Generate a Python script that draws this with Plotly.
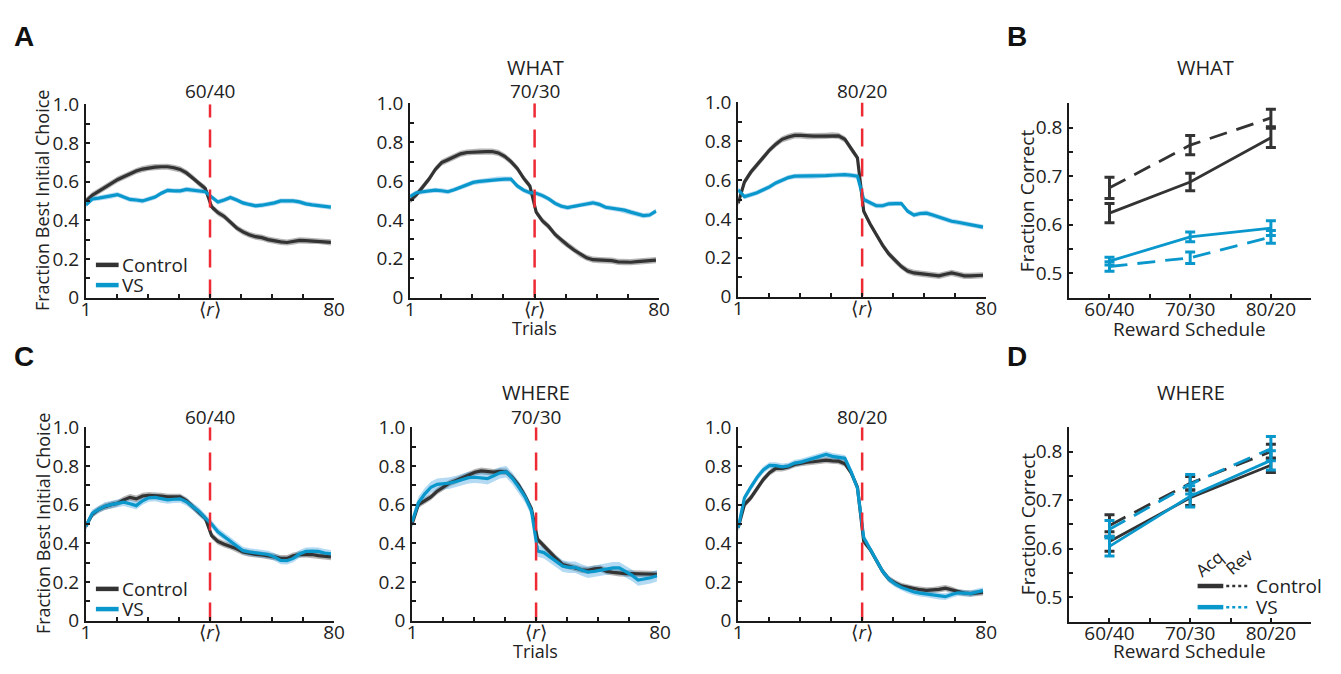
import plotly.graph_objects as go

W, H = 1341, 674

# ---------------- data ----------------
trials = list(range(1, 80, 2))  # 1,3,...,79
reversal_trial = 40.5

# WHAT (row A)
what_6040_control = [0.50, 0.53, 0.55, 0.57, 0.59, 0.61, 0.625, 0.64, 0.655, 0.665, 0.672, 0.675, 0.677, 0.677, 0.672, 0.663, 0.645, 0.62, 0.59, 0.565,
                     0.47, 0.44, 0.42, 0.39, 0.36, 0.34, 0.325, 0.315, 0.31, 0.30, 0.293, 0.288, 0.285, 0.29, 0.296, 0.295, 0.293, 0.293, 0.29, 0.286]
what_6040_vs = [0.48, 0.51, 0.515, 0.52, 0.525, 0.533, 0.52, 0.508, 0.505, 0.50, 0.51, 0.52, 0.54, 0.555, 0.552, 0.552, 0.56, 0.555, 0.552, 0.548,
                0.52, 0.495, 0.505, 0.518, 0.505, 0.49, 0.482, 0.475, 0.478, 0.483, 0.49, 0.50, 0.50, 0.50, 0.495, 0.485, 0.48, 0.476, 0.473, 0.468]
what_7030_control = [0.50, 0.53, 0.57, 0.61, 0.66, 0.695, 0.71, 0.725, 0.74, 0.747, 0.75, 0.752, 0.752, 0.752, 0.745, 0.727, 0.70, 0.665, 0.615, 0.575,
                     0.44, 0.395, 0.365, 0.325, 0.295, 0.27, 0.245, 0.223, 0.205, 0.195, 0.193, 0.193, 0.19, 0.184, 0.182, 0.182, 0.185, 0.188, 0.19, 0.193]
what_7030_vs = [0.52, 0.54, 0.545, 0.55, 0.553, 0.55, 0.545, 0.555, 0.568, 0.58, 0.593, 0.598, 0.602, 0.605, 0.61, 0.61, 0.61, 0.575, 0.553, 0.54,
                0.537, 0.525, 0.508, 0.485, 0.47, 0.463, 0.47, 0.478, 0.482, 0.488, 0.48, 0.465, 0.46, 0.455, 0.45, 0.44, 0.43, 0.422, 0.425, 0.445]
what_8020_control = [0.48, 0.59, 0.64, 0.68, 0.715, 0.755, 0.785, 0.81, 0.822, 0.83, 0.83, 0.826, 0.826, 0.826, 0.828, 0.83, 0.828, 0.81, 0.76, 0.715,
                     0.44, 0.375, 0.32, 0.265, 0.22, 0.185, 0.155, 0.132, 0.122, 0.118, 0.115, 0.11, 0.107, 0.115, 0.122, 0.115, 0.107, 0.107, 0.107, 0.11]
what_8020_vs = [0.55, 0.515, 0.525, 0.535, 0.55, 0.565, 0.585, 0.60, 0.613, 0.62, 0.62, 0.62, 0.62, 0.622, 0.623, 0.625, 0.628, 0.628, 0.625, 0.62,
                0.50, 0.482, 0.468, 0.468, 0.478, 0.479, 0.479, 0.44, 0.42, 0.428, 0.43, 0.42, 0.41, 0.398, 0.388, 0.383, 0.378, 0.37, 0.364, 0.358]

# WHERE (row C)
where_6040_control = [0.49, 0.55, 0.575, 0.59, 0.60, 0.607, 0.625, 0.638, 0.63, 0.645, 0.648, 0.648, 0.645, 0.64, 0.64, 0.64, 0.62, 0.59, 0.56, 0.53,
                      0.44, 0.41, 0.395, 0.385, 0.372, 0.355, 0.347, 0.343, 0.34, 0.336, 0.33, 0.322, 0.322, 0.335, 0.342, 0.343, 0.342, 0.336, 0.333, 0.33]
where_6040_vs = [0.49, 0.555, 0.575, 0.592, 0.60, 0.607, 0.613, 0.605, 0.595, 0.62, 0.635, 0.638, 0.63, 0.625, 0.628, 0.63, 0.615, 0.59, 0.565, 0.53,
                 0.50, 0.46, 0.435, 0.41, 0.385, 0.362, 0.355, 0.35, 0.345, 0.342, 0.33, 0.312, 0.31, 0.322, 0.345, 0.358, 0.36, 0.358, 0.35, 0.345]
where_7030_control = [0.50, 0.60, 0.62, 0.64, 0.67, 0.69, 0.712, 0.725, 0.74, 0.752, 0.768, 0.775, 0.77, 0.768, 0.772, 0.77, 0.74, 0.70, 0.645, 0.58,
                      0.42, 0.385, 0.35, 0.32, 0.29, 0.28, 0.273, 0.263, 0.26, 0.268, 0.27, 0.255, 0.25, 0.245, 0.243, 0.243, 0.243, 0.243, 0.243, 0.24]
where_7030_vs = [0.51, 0.61, 0.655, 0.69, 0.705, 0.708, 0.712, 0.72, 0.73, 0.74, 0.742, 0.74, 0.735, 0.75, 0.765, 0.77, 0.735, 0.69, 0.64, 0.57,
                 0.36, 0.352, 0.33, 0.305, 0.282, 0.276, 0.276, 0.262, 0.251, 0.255, 0.26, 0.268, 0.273, 0.273, 0.255, 0.235, 0.21, 0.215, 0.222, 0.232]
where_8020_control = [0.48, 0.60, 0.635, 0.68, 0.73, 0.765, 0.788, 0.788, 0.795, 0.808, 0.815, 0.82, 0.822, 0.826, 0.83, 0.827, 0.825, 0.812, 0.765, 0.69,
                      0.41, 0.37, 0.315, 0.255, 0.215, 0.195, 0.18, 0.172, 0.165, 0.16, 0.157, 0.158, 0.162, 0.168, 0.16, 0.148, 0.143, 0.14, 0.142, 0.146]
where_8020_vs = [0.48, 0.635, 0.69, 0.74, 0.78, 0.803, 0.802, 0.796, 0.80, 0.815, 0.82, 0.83, 0.838, 0.85, 0.86, 0.85, 0.845, 0.84, 0.77, 0.685,
                 0.43, 0.37, 0.31, 0.255, 0.215, 0.19, 0.172, 0.158, 0.148, 0.142, 0.138, 0.134, 0.126, 0.124, 0.135, 0.144, 0.142, 0.14, 0.148, 0.155]

# band half-widths (SEM) per curve
sem_what_control = [0.016, 0.016, 0.016]
sem_what_vs = [0.013, 0.013, 0.013]
sem_where_control = [0.017, 0.017, 0.016]
sem_where_vs = [0.02, 0.03, 0.017]

schedules = ["60/40", "70/30", "80/20"]

# B: WHAT fraction correct
b_control_acq = [0.624, 0.688, 0.779]
b_control_acq_err = [0.02, 0.018, 0.02]
b_control_rev = [0.676, 0.764, 0.82]
b_control_rev_err = [0.022, 0.02, 0.018]
b_vs_acq = [0.525, 0.575, 0.593]
b_vs_acq_err = [0.008, 0.01, 0.015]
b_vs_rev = [0.514, 0.532, 0.575]
b_vs_rev_err = [0.01, 0.012, 0.013]

# D: WHERE fraction correct
d_control_acq = [0.615, 0.705, 0.772]
d_control_acq_err = [0.02, 0.016, 0.015]
d_control_rev = [0.648, 0.735, 0.80]
d_control_rev_err = [0.022, 0.014, 0.015]
d_vs_acq = [0.605, 0.708, 0.782]
d_vs_acq_err = [0.02, 0.022, 0.02]
d_vs_rev = [0.64, 0.733, 0.806]
d_vs_rev_err = [0.018, 0.02, 0.025]

# ---------------- style ----------------
BLACK = "#333333"
BLUE = "#0A98CC"
BAND_BLACK = "rgba(90,90,90,0.45)"
BAND_BLUE = "rgba(40,150,220,0.35)"
RED = "#EE2A35"
AXC = "#1a1a1a"
FONT = "Open Sans"
TXT = "#222222"
TICK = 19


def px(x):
    return x / W


def py(y):
    return 1 - y / H


fig = go.Figure()

# panel pixel boxes: (left, right, top, bottom)
ts_boxes = [
    (82, 333, 95, 296), (410, 662, 94, 296), (742, 993, 93, 295),
    (82, 333, 431, 632), (412, 663, 431, 632), (742, 993, 431, 632),
]
sum_boxes = [(1077, 1322, 94, 296), (1077, 1322, 431, 633)]

what_sets = [(what_6040_control, what_6040_vs), (what_7030_control, what_7030_vs), (what_8020_control, what_8020_vs)]
where_sets = [(where_6040_control, where_6040_vs), (where_7030_control, where_7030_vs), (where_8020_control, where_8020_vs)]

panels = []
for i in range(3):
    panels.append((what_sets[i][0], what_sets[i][1], sem_what_control[i], sem_what_vs[i]))
for i in range(3):
    panels.append((where_sets[i][0], where_sets[i][1], sem_where_control[i], sem_where_vs[i]))

x_tickvals = [1 + k * 79 / 8 for k in range(9)]
x_ticktext = ["1", "", "", "", "\u27e8<i>r</i>\u27e9", "", "", "", "80"]
y_tickvals = [k / 10 for k in range(11)]
y_ticktext = ["0", "", "0.2", "", "0.4", "", "0.6", "", "0.8", "", "1.0"]


def band(xs, ys, s, color, xa, ya):
    upper = [v + s for v in ys]
    lower = [v - s for v in ys]
    fig.add_trace(go.Scatter(x=xs + xs[::-1], y=upper + lower[::-1], fill="toself",
                             fillcolor=color, line=dict(width=0), mode="lines",
                             hoverinfo="skip", showlegend=False, xaxis=xa, yaxis=ya))


for idx, (ctrl, vs, sc, sv) in enumerate(panels):
    n = idx + 1
    xa = "x" if n == 1 else f"x{n}"
    ya = "y" if n == 1 else f"y{n}"
    band(trials, ctrl, sc, BAND_BLACK, xa, ya)
    band(trials, vs, sv, BAND_BLUE, xa, ya)
    fig.add_trace(go.Scatter(x=trials, y=ctrl, mode="lines", line=dict(color=BLACK, width=3.2),
                             showlegend=False, xaxis=xa, yaxis=ya))
    fig.add_trace(go.Scatter(x=trials, y=vs, mode="lines", line=dict(color=BLUE, width=3.2),
                             showlegend=False, xaxis=xa, yaxis=ya))
    fig.add_trace(go.Scatter(x=[reversal_trial, reversal_trial], y=[0, 1], mode="lines",
                             line=dict(color=RED, width=2.5, dash="18px,12px"),
                             showlegend=False, xaxis=xa, yaxis=ya))
    l, r, t, b = ts_boxes[idx]
    fig.layout[f"xaxis{'' if n == 1 else n}"] = dict(
        domain=[px(l), px(r)], range=[1, 80], anchor=ya, tickmode="array",
        tickvals=x_tickvals, ticktext=x_ticktext, ticks="inside", ticklen=4, tickwidth=1.5,
        tickcolor=AXC, showline=True, linecolor=AXC, linewidth=2, showgrid=False, zeroline=False,
        ticklabelstandoff=-6, tickfont=dict(size=TICK, color=TXT, family=FONT))
    fig.layout[f"yaxis{'' if n == 1 else n}"] = dict(
        domain=[py(b), py(t)], range=[0, 1], anchor=xa, tickmode="array",
        tickvals=y_tickvals, ticktext=y_ticktext, ticks="inside", ticklen=4, tickwidth=1.5,
        tickcolor=AXC, showline=True, linecolor=AXC, linewidth=2, showgrid=False, zeroline=False,
        ticklabelstandoff=1, tickfont=dict(size=TICK, color=TXT, family=FONT))

# summary panels B and D
xpos = [1, 2, 3]
summary = [
    (7, [(b_control_acq, b_control_acq_err, BLACK, "solid"), (b_control_rev, b_control_rev_err, BLACK, "18px,10px"),
         (b_vs_acq, b_vs_acq_err, BLUE, "solid"), (b_vs_rev, b_vs_rev_err, BLUE, "18px,10px")]),
    (8, [(d_control_acq, d_control_acq_err, BLACK, "solid"), (d_control_rev, d_control_rev_err, BLACK, "18px,10px"),
         (d_vs_acq, d_vs_acq_err, BLUE, "solid"), (d_vs_rev, d_vs_rev_err, BLUE, "18px,10px")]),
]
for k, (n, series) in enumerate(summary):
    xa, ya = f"x{n}", f"y{n}"
    for vals, errs, col, dash in series:
        fig.add_trace(go.Scatter(x=xpos, y=vals, mode="lines", line=dict(color=col, width=2.8, dash=dash),
                                 error_y=dict(type="data", array=errs, visible=True, color=col, thickness=3, width=5),
                                 showlegend=False, xaxis=xa, yaxis=ya))
    l, r, t, b = sum_boxes[k]
    fig.layout[f"xaxis{n}"] = dict(
        domain=[px(l), px(r)], range=[0.5, 3.5], anchor=ya, tickmode="array",
        tickvals=[1, 1.5, 2, 2.5, 3], ticktext=[schedules[0], "", schedules[1], "", schedules[2]],
        ticks="inside", ticklen=4, tickwidth=1.5, tickcolor=AXC, showline=True, linecolor=AXC, linewidth=2,
        showgrid=False, zeroline=False, ticklabelstandoff=-6, tickfont=dict(size=TICK, color=TXT, family=FONT))
    fig.layout[f"yaxis{n}"] = dict(
        domain=[py(b), py(t)], range=[0.45, 0.85], anchor=xa, tickmode="array",
        tickvals=[0.5, 0.55, 0.6, 0.65, 0.7, 0.75, 0.8], ticktext=["0.5", "", "0.6", "", "0.7", "", "0.8"],
        ticks="inside", ticklen=4, tickwidth=1.5, tickcolor=AXC, showline=True, linecolor=AXC, linewidth=2,
        showgrid=False, zeroline=False, ticklabelstandoff=1, tickfont=dict(size=TICK, color=TXT, family=FONT))

ann = []


def text(x, y, s, size=19, angle=0, bold=False, family=FONT, xanchor="center"):
    ann.append(dict(x=px(x), y=py(y), xref="paper", yref="paper", text=f"<b>{s}</b>" if bold else s,
                    showarrow=False, textangle=angle, xanchor=xanchor, yanchor="middle",
                    font=dict(size=size, color="#111" if bold else TXT, family=family)))


# panel letters
text(19, 24, "A", 28, bold=True, family="Liberation Sans")
text(1024, 24, "B", 28, bold=True, family="Liberation Sans")
text(19, 357, "C", 28, bold=True, family="Liberation Sans")
text(1024, 357, "D", 28, bold=True, family="Liberation Sans")

# titles
text(537, 57, "WHAT", 20)
text(1215, 57, "WHAT", 20)
text(537, 395, "WHERE", 20)
text(1200, 395, "WHERE", 20)
for (l, r, t, b), s in zip(ts_boxes[:3], schedules):
    text((l + r) / 2, 81, s, 19)
for (l, r, t, b), s in zip(ts_boxes[3:], schedules):
    text((l + r) / 2, 420, s, 19)

# axis titles
text(38, 195, "Fraction Best Initial Choice", 18, angle=-90)
text(38, 531, "Fraction Best Initial Choice", 18, angle=-90)
text(536, 328, "Trials", 18)
text(537, 664, "Trials", 18)
text(1035, 195, "Fraction Correct", 19, angle=-90)
text(1035, 531, "Fraction Correct", 19, angle=-90)
text(1199, 329, "Reward Schedule", 19)
text(1199, 664, "Reward Schedule", 19)

# legends in A and C
shapes = []
for base in (262, 599):
    shapes.append(dict(type="line", xref="paper", yref="paper", x0=px(92), x1=px(115), y0=py(base), y1=py(base),
                       line=dict(color=BLACK, width=4.5)))
    shapes.append(dict(type="line", xref="paper", yref="paper", x0=px(92), x1=px(115), y0=py(base + 21), y1=py(base + 21),
                       line=dict(color=BLUE, width=4.5)))
    text(116, base, "Control", 19, xanchor="left")
    text(116, base + 21, "VS", 19, xanchor="left")

# legend in D
for yy, col, lab in ((596, BLACK, "Control"), (618, BLUE, "VS")):
    shapes.append(dict(type="line", xref="paper", yref="paper", x0=px(1207), x1=px(1233), y0=py(yy), y1=py(yy),
                       line=dict(color=col, width=4.5)))
    shapes.append(dict(type="line", xref="paper", yref="paper", x0=px(1236), x1=px(1259), y0=py(yy), y1=py(yy),
                       line=dict(color=col, width=2.5, dash="dot")))
    text(1264, yy, lab, 19, xanchor="left")
text(1219, 573, "Acq", 17, angle=-40)
text(1249, 571, "Rev", 17, angle=-40)

fig.update_layout(width=W, height=H, margin=dict(l=0, r=0, t=0, b=0), plot_bgcolor="white",
                  paper_bgcolor="white", annotations=ann, shapes=shapes, showlegend=False,
                  font=dict(family=FONT, color=TXT))
fig.write_html("out.html")
